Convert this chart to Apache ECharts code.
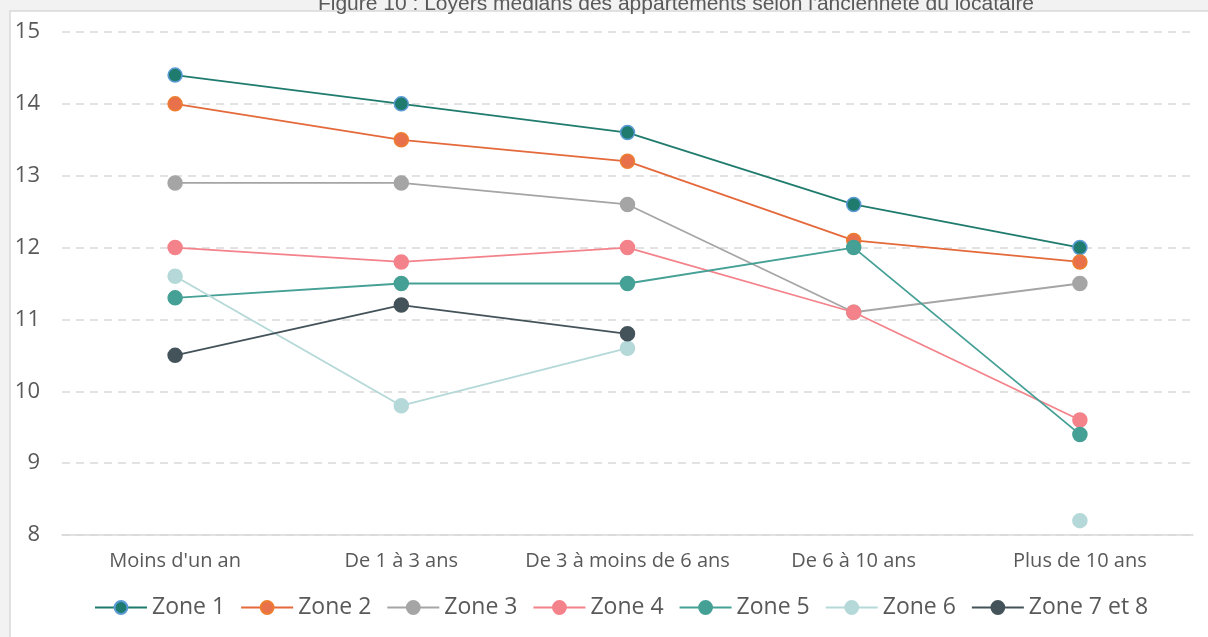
<!DOCTYPE html>
<html><head><meta charset="utf-8">
<script src="https://cdn.jsdelivr.net/npm/echarts@6/dist/echarts.min.js"></script>
<style>html,body{margin:0;padding:0;background:#f2f2f2;}#c{width:1208px;height:637px;}</style>
</head><body><div id="c"></div>
<script>
const categories = ["Moins d'un an", "De 1 à 3 ans", "De 3 à moins de 6 ans", "De 6 à 10 ans", "Plus de 10 ans"];
const zone1 = [14.4, 14.0, 13.6, 12.6, 12.0];
const zone2 = [14.0, 13.5, 13.2, 12.1, 11.8];
const zone3 = [12.9, 12.9, 12.6, 11.1, 11.5];
const zone4 = [12.0, 11.8, 12.0, 11.1, 9.6];
const zone5 = [11.3, 11.5, 11.5, 12.0, 9.4];
const zone6 = [11.6, 9.8, 10.6, null, 8.2];
const zone78 = [10.5, 11.2, 10.8, null, null];
const seriesNames = ["Zone 1", "Zone 2", "Zone 3", "Zone 4", "Zone 5", "Zone 6", "Zone 7 et 8"];
const title = "Figure 10 : Loyers médians des appartements selon l'ancienneté du locataire";

const styles = [
  {line:'#1f7b6d', fill:'#1f7b6d', border:'#5b9bd5'},
  {line:'#e4693b', fill:'#e8704a', border:'#ed7d31'},
  {line:'#a5a5a5', fill:'#a5a5a5', border:'#a5a5a5'},
  {line:'#f4828a', fill:'#f4828a', border:'#f4828a'},
  {line:'#45a095', fill:'#45a095', border:'#45a095'},
  {line:'#b5d8d8', fill:'#b5d8d8', border:'#b5d8d8'},
  {line:'#44535a', fill:'#44535a', border:'#44535a'}
];
const data = [zone1, zone2, zone3, zone4, zone5, zone6, zone78];
const font = "'Open Sans', 'Noto Sans', sans-serif";

const chart = echarts.init(document.getElementById('c'));
chart.setOption({
  animation: false,
  backgroundColor: '#f2f2f2',
  graphic: [{type:'rect', shape:{x:10, y:11, width:1220, height:640}, style:{fill:'#ffffff', stroke:'#d9d9d9', lineWidth:1.5}, z:-10}],
  title: {text: title, left: 671, textAlign: 'center', top: -11,
    textStyle:{fontFamily:"'Liberation Sans', sans-serif", fontSize:21, fontWeight:'normal', color:'#595959'}},
  grid: {left: 62, right: 15, top: 32, bottom: 102},
  legend: {top: 591, left: 89, itemWidth: 52, itemHeight: 16, itemGap: 15,
    textStyle:{fontFamily: font, fontSize: 23, color:'#595959'}, data: seriesNames},
  xAxis: {type:'category', data: categories, boundaryGap: true,
    axisLine:{lineStyle:{color:'#d9d9d9', width:1.5}}, axisTick:{show:false},
    axisLabel:{interval: 0, margin: 16, fontFamily: font, fontSize: 20, color:'#595959'}},
  yAxis: {type:'value', min: 8, max: 15, interval: 1,
    axisLine:{show:false}, axisTick:{show:false},
    axisLabel:{margin: 22, fontFamily: font, fontSize: 22, color:'#595959'},
    splitLine:{lineStyle:{color:'#d9d9d9', type:[8,6], width:1.5}}},
  series: data.map((d, i) => ({
    name: seriesNames[i], type: 'line', data: d, connectNulls: false,
    symbol: 'circle', symbolSize: 14, showSymbol: true,
    lineStyle:{color: styles[i].line, width: 1.8},
    itemStyle:{color: styles[i].fill, borderColor: styles[i].border, borderWidth: 1.5},
    emphasis:{disabled:true}
  }))
});
</script></body></html>
